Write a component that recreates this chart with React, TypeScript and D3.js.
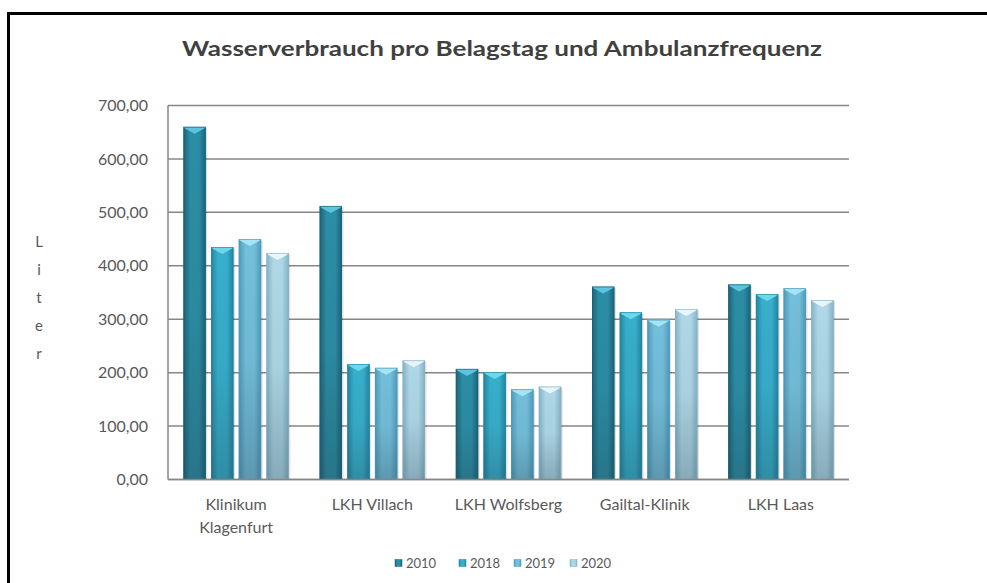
import React from 'react';
import * as d3 from 'd3';

const categories = [['Klinikum', 'Klagenfurt'], ['LKH Villach'], ['LKH Wolfsberg'], ['Gailtal-Klinik'], ['LKH Laas']];
const years = ['2010', '2018', '2019', '2020'];
const values2010 = [660, 512, 207, 361, 365];
const values2018 = [435, 216, 201, 313, 347];
const values2019 = [450, 209, 169, 299, 358];
const values2020 = [424, 223, 174, 319, 336];
const yTicks = [0, 100, 200, 300, 400, 500, 600, 700];

const series = [values2010, values2018, values2019, values2020];
// main / edge / bevel colours per year
const palette = [
  { main: '#2b8ea6', edge: '#1b6277', bevel: '#62cbe3' },
  { main: '#37afcc', edge: '#2284a1', bevel: '#74daf1' },
  { main: '#74bfdb', edge: '#4c9aba', bevel: '#abe8f6' },
  { main: '#afd8e8', edge: '#83b2c5', bevel: '#eefafd' },
];

const font = 'Lato, "Open Sans", sans-serif';

export default function App() {
  const W = 987, H = 583;
  const margin = { top: 105.5, right: 138, bottom: 103.5, left: 168 };
  const innerW = W - margin.left - margin.right;
  const innerH = H - margin.top - margin.bottom;

  const x0 = d3.scaleBand<number>()
    .domain(d3.range(categories.length))
    .range([0, innerW])
    .paddingInner(0.226)
    .paddingOuter(0.113);
  const x1 = d3.scaleBand<number>()
    .domain(d3.range(years.length))
    .range([0, x0.bandwidth()])
    .paddingInner(0.19);
  const y = d3.scaleLinear().domain([0, 700]).range([innerH, 0]);
  const fmt = (v: number) => d3.format('.2f')(v).replace('.', ',');

  return (
    <div style={{ position: 'fixed', left: 0, top: 0 }}>
      <svg width={W} height={H} style={{ display: 'block', background: '#fff' }}>
        <defs>
          {palette.map((p, i) => (
            <linearGradient key={'h' + i} id={'hg' + i} x1="0" x2="1" y1="0" y2="0">
              <stop offset="0" stopColor={p.edge} />
              <stop offset="0.3" stopColor={p.main} />
              <stop offset="0.7" stopColor={p.main} />
              <stop offset="1" stopColor={p.edge} />
            </linearGradient>
          ))}
          <linearGradient id="shade" x1="0" x2="0" y1="0" y2="1">
            <stop offset="0" stopColor="#000" stopOpacity={0} />
            <stop offset="0.5" stopColor="#203640" stopOpacity={0.05} />
            <stop offset="1" stopColor="#203640" stopOpacity={0.28} />
          </linearGradient>
        </defs>

        {/* frame */}
        <path d={`M8.5,${H + 5} V13.5 H${W + 5}`} fill="none" stroke="#000" strokeWidth={3} />

        <text x={502} y={56} textAnchor="middle" fontFamily={font} fontWeight={700} fontSize={21}
          fill="#404040" textLength={640} lengthAdjust="spacingAndGlyphs">
          Wasserverbrauch pro Belagstag und Ambulanzfrequenz
        </text>

        {/* y axis label */}
        {'Liter'.split('').map((c, i) => (
          <text key={i} x={39} y={247 + i * 28} textAnchor="middle" fontFamily={font} fontSize={15} fill="#595959">{c}</text>
        ))}

        <g transform={`translate(${margin.left},${margin.top})`}>
          {yTicks.map(t => (
            <g key={t}>
              <line x1={0} x2={innerW} y1={y(t)} y2={y(t)} stroke="#868686" strokeWidth={1.5} />
              <text x={-20} y={y(t)} dy="0.35em" textAnchor="end" fontFamily={font} fontSize={16} fill="#595959">{fmt(t)}</text>
            </g>
          ))}
          <line x1={0} x2={0} y1={0} y2={innerH} stroke="#868686" strokeWidth={1.5} />

          {categories.map((cat, ci) => (
            <g key={ci} transform={`translate(${x0(ci)},0)`}>
              {series.map((vals, si) => {
                const bx = x1(si)!;
                const bw = x1.bandwidth();
                const by = y(vals[ci]);
                const bh = innerH - by;
                const p = palette[si];
                const bev = 7;
                return (
                  <g key={si}>
                    <rect x={bx + 1.5} y={by + 1.5} width={bw} height={bh - 1.5} fill="#000" opacity={0.12} />
                    <rect x={bx} y={by} width={bw} height={bh} fill={`url(#hg${si})`} />
                    <rect x={bx} y={by} width={bw} height={bh} fill="url(#shade)" />
                    <path d={`M${bx},${by} H${bx + bw} L${bx + bw - 2},${by + 2} L${bx + bw / 2},${by + bev} L${bx + 2},${by + 2} Z`}
                      fill={p.bevel} opacity={0.9} />
                    <rect x={bx + 0.4} y={by + 0.4} width={bw - 0.8} height={bh - 0.8} fill="none" stroke={p.edge} strokeWidth={0.8} opacity={0.8} />
                  </g>
                );
              })}
              {cat.map((line, li) => (
                <text key={li} x={x0.bandwidth() / 2} y={innerH + 30 + li * 23} textAnchor="middle"
                  fontFamily={font} fontSize={16} fill="#595959">{line}</text>
              ))}
            </g>
          ))}
          <line x1={0} x2={innerW} y1={innerH} y2={innerH} stroke="#868686" strokeWidth={1.5} />
        </g>

        {/* legend */}
        {years.map((yr, i) => {
          const lx = [395, 459, 514, 570][i];
          return (
            <g key={yr} transform={`translate(${lx},563)`}>
              <rect x={0} y={-3.5} width={7} height={7} fill={`url(#hg${i})`} stroke={palette[i].edge} strokeWidth={0.5} />
              <text x={11} y={0} dy="0.35em" fontFamily={font} fontSize={13} fill="#595959">{yr}</text>
            </g>
          );
        })}
      </svg>
    </div>
  );
}
